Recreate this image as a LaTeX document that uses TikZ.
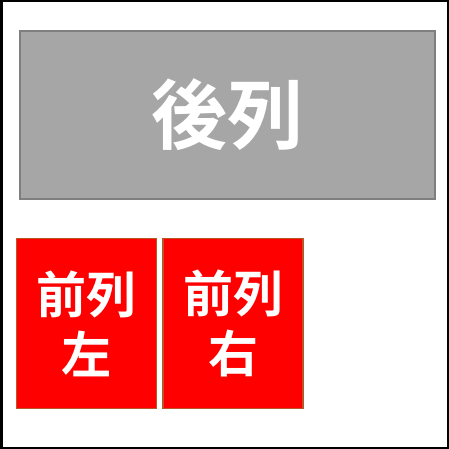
\documentclass[tikz,border=0pt]{standalone}
\usepackage{fontspec}
\newfontfamily\cjk{Noto Sans CJK JP}[BoldFont={Noto Sans CJK JP Bold}]
\definecolor{backgray}{RGB}{166,166,166}
\definecolor{backedge}{RGB}{127,127,127}
\definecolor{frontred}{RGB}{255,0,0}
\definecolor{frontedge}{RGB}{185,85,40}
\begin{document}
\begin{tikzpicture}[x=1pt, y=-1pt,
  seat/.style={draw, line width=1.2pt, inner sep=0pt, align=center, text=white,
    font=\cjk\bfseries\fontsize{50}{60}\selectfont}]
\useasboundingbox (0, 0) rectangle (449, 449);
\draw[line width=2.5pt] (1.25, 1.25) rectangle (447.75, 447.75);
\node[seat, fill=backgray, draw=backedge, minimum width=415pt, minimum height=168pt,
  font=\cjk\bfseries\fontsize{76}{80}\selectfont] (back) at (227.5, 115) {後列};
\foreach \x/\i/\s in {86.5/left/左, 233/right/右}
  \node[seat, fill=frontred, draw=frontedge, minimum width=140pt, minimum height=170pt]
    (front\i) at (\x, 323.5) {前列\\\s};
\end{tikzpicture}
\end{document}
